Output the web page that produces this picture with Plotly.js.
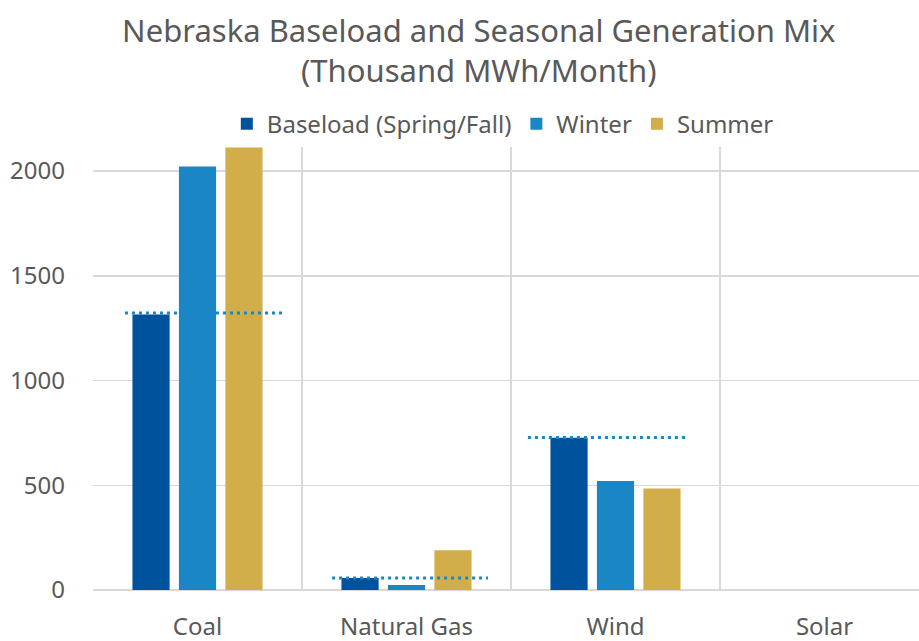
<!DOCTYPE html>
<html>
<head>
<meta charset="utf-8">
<script src="https://cdn.plot.ly/plotly-3.0.1.min.js"></script>
<style>html,body{margin:0;padding:0;background:#fff;}#chart{width:919px;height:641px;}</style>
</head>
<body>
<div id="chart"></div>
<script>
// ---- data ----
const categories = ["Coal", "Natural Gas", "Wind", "Solar"];
const seriesNames = ["Baseload (Spring/Fall)", "Winter", "Summer"];
const baseload = [1315, 57, 727, 0];
const winter = [2022, 24, 520, 0];
const summer = [2112, 190, 484, 0];
const baselineMarks = [1322, 57, 728]; // dotted baseload reference lines (Coal, Natural Gas, Wind)
const yTicks = [0, 500, 1000, 1500, 2000];

// ---- layout helpers (positions, not data) ----
const lineLeft = [-0.347, -0.356, -0.419];
const lineRight = [0.409, 0.39, 0.333];

const colors = ["#01529c", "#1b86c6", "#d2ae4b"];
const textColor = "#595959";
const font = "Noto Sans, Open Sans, sans-serif";

const xIdx = categories.map((c, i) => i);
const seriesVals = [baseload, winter, summer];

const traces = seriesVals.map((vals, s) => ({
  type: "bar",
  name: seriesNames[s],
  x: xIdx,
  y: vals,
  marker: { color: colors[s], line: { width: 0 } },
  hoverinfo: "x+y+name"
}));

const lx = [], ly = [];
baselineMarks.forEach((v, i) => {
  lx.push(i + lineLeft[i], i + lineRight[i], null);
  ly.push(v, v, null);
});
traces.push({
  type: "scatter",
  mode: "lines",
  x: lx,
  y: ly,
  showlegend: false,
  hoverinfo: "skip",
  line: { color: "#1b86c6", width: 3, dash: "3px,4px" }
});

const plotW = 919 - 93;
const catW = 209;

const layout = {
  width: 919,
  height: 641,
  margin: { l: 93, r: 0, t: 107, b: 51 },
  paper_bgcolor: "#ffffff",
  plot_bgcolor: "#ffffff",
  font: { family: font, color: textColor, size: 24 },
  title: {
    text: "Nebraska Baseload and Seasonal Generation Mix<br>(Thousand MWh/Month)",
    font: { family: font, size: 31, color: textColor },
    x: 0.521, xref: "container", xanchor: "center",
    y: 0.935, yref: "container", yanchor: "top"
  },
  barmode: "group",
  bargap: 0.333,
  bargroupgap: 0.2,
  showlegend: true,
  legend: {
    orientation: "h",
    x: 0.162, xanchor: "left",
    y: 1.011, yanchor: "top",
    bgcolor: "#ffffff",
    font: { family: font, size: 24, color: textColor },
    traceorder: "normal"
  },
  xaxis: {
    type: "linear",
    range: [-0.5, -0.5 + plotW / catW],
    tickmode: "array",
    tickvals: xIdx,
    ticktext: categories,
    showgrid: false,
    zeroline: false,
    showline: false,
    ticks: "",
    ticklabelstandoff: 20,
    tickfont: { family: font, size: 24, color: textColor },
    minor: {
      tickmode: "array",
      tickvals: categories.map((c, i) => i - 0.5),
      showgrid: true,
      gridcolor: "#d9d9d9",
      gridwidth: 1.5,
      ticks: ""
    },
    fixedrange: true
  },
  yaxis: {
    range: [0, 483 / 0.2095],
    tickmode: "array",
    tickvals: yTicks,
    ticktext: yTicks.map(String),
    showgrid: true,
    gridcolor: "#d9d9d9",
    gridwidth: 1.5,
    zeroline: true,
    zerolinecolor: "#d9d9d9",
    zerolinewidth: 1.5,
    showline: false,
    ticks: "",
    ticklabelstandoff: 27,
    tickfont: { family: font, size: 24, color: textColor },
    fixedrange: true
  }
};

Plotly.newPlot("chart", traces, layout, { displayModeBar: false, staticPlot: true });
</script>
</body>
</html>
